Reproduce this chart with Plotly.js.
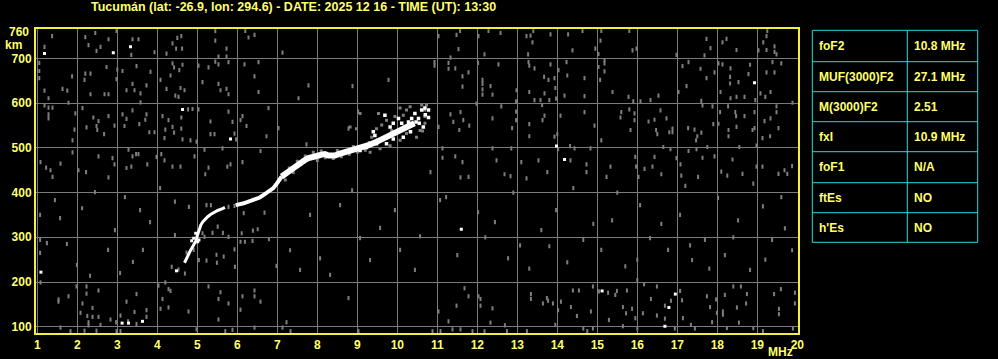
<!DOCTYPE html>
<html><head><meta charset="utf-8">
<script src="https://cdn.plot.ly/plotly-3.0.1.min.js"></script>
<style>html,body{margin:0;padding:0;background:#000;}#chart{width:998px;height:359px;}</style>
</head><body><div id="chart"></div>
<script>
// ---- Data (frequency in MHz, virtual height in km) ----
const xTicks = [1,2,3,4,5,6,7,8,9,10,11,12,13,14,15,16,17,18,19,20];
const yTicks = [100,200,300,400,500,600,700];

// main O-trace, lower thin part
const traceLowF = [4.68,4.71,4.74,4.78,4.81,4.84,4.89,4.94,4.98,4.99,5.03,5.06,5.09,5.14,5.19,5.26,5.33,5.41,5.51,5.63,5.69];
const traceLowH = [243,249,257,262,267,272,279,287,294,301,313,322,328,335,340,346,351,355,360,364,367];
// crossing branch near 5 MHz
const branchF = [4.86,4.91,4.96,5.01,5.04];
const branchH = [292,298,309,290,294];
// middle part
const traceMidF = [5.96,6.04,6.16,6.26,6.36,6.46,6.56,6.66,6.74,6.83,6.9,6.97,7.04,7.11];
const traceMidH = [372,373,376,379,382,385,389,395,400,403,410,418,427,436];
// upper thick part
const traceUpF = [7.11,7.19,7.28,7.36,7.44,7.53,7.61,7.69,7.78,7.86,7.94,8.03,8.11,8.19,8.28,8.36,8.44,8.53,8.61,8.69,8.78,8.86,8.94,9.03,9.11,9.19,9.28,9.47,9.63,9.8,9.97,10.13,10.3,10.43];
const traceUpH = [436,443,447,452,458,462,467,473,477,480,482,483,485,486,483,482,483,486,488,489,491,495,497,499,501,504,506,513,520,526,532,540,547,555];
// spread echoes at the top of the trace
const cloudWhiteF = [9.4,9.44,9.57,9.69,9.82,9.9,9.98,10.03,10.11,10.19,10.28,10.36,10.44,10.47,10.53,10.61,10.69,10.78,10.65,10.33,10.15,9.9,9.73,9.48,9.23,9.07,10.7,10.78,10.55];
const cloudWhiteH = [536,528,517,573,547,555,536,566,555,547,558,566,577,558,566,585,589,585,547,536,524,520,509,509,501,494,574,568,555];
const cloudGreyF = [9.53,9.61,9.73,9.86,9.94,10.07,10.15,10.23,10.32,10.4,10.57,10.61,10.73,10.23,10.07,9.82,9.57,9.32,9.48,9.07,8.98,8.82,9.36,10.48,10.69,10.69,10.63,10.68,8.0,8.2,8.4,8.6,8.8,9.0,9.2,8.1,8.5,8.9,9.3,9.5,7.5,7.7,7.3,7.9,7.2,7.4];
const cloudGreyH = [577,551,562,539,570,589,573,585,592,555,539,596,596,532,517,505,498,490,543,577,543,547,524,524,570,555,538,585,472,478,476,480,486,490,495,493,494,503,512,518,470,482,455,490,428,445];

// isolated strong dots
const whiteF = [1.18,2.9,3.33,4.63,5.83,18.93,13.98,14.18,15.12,16.79,16.69,16.95,3.12,3.28,3.63,11.6,1.09,4.48];
const whiteH = [711,713,726,586,520,646,504,474,180,143,101,173,108,108,112,318,222,225];

// background noise dots
const noiseF = [
1.37,1.18,2.2,2.28,2.45,2.58,2.48,2.78,2.98,3.38,3.53,3.35,3.93,4.23,4.38,4.5,4.6,4.62,4.47,5.45,5.45,5.53,5.73,5.73,6.2,6.28,6.43,7.13,
1.05,1.05,1.05,1.87,1.78,1.18,1.28,1.63,1.75,2.2,2.18,2.33,2.33,2.73,2.68,2.78,3.0,3.13,2.98,3.48,3.23,3.38,3.43,3.58,3.73,3.83,3.58,4.08,4.23,4.33,4.38,4.42,4.55,4.63,4.45,4.53,4.68,4.58,5.03,5.13,5.28,5.45,5.53,5.78,5.53,5.58,5.73,5.78,6.18,6.53,6.43,6.53,7.53,7.78,8.88,9.78,
1.18,1.28,1.38,1.28,1.28,1.95,1.93,1.88,2.13,2.23,2.4,2.5,2.48,2.67,2.53,2.78,2.93,3.13,3.23,3.38,3.18,3.55,3.7,3.73,3.8,3.93,4.13,4.2,4.18,4.28,4.38,4.42,4.77,4.88,4.6,4.6,4.63,4.83,5.03,4.98,5.33,5.33,5.43,5.78,5.88,5.93,5.97,6.08,6.13,6.23,6.78,7.03,6.73,7.73,8.78,9.02,
1.08,1.22,1.33,1.58,1.38,1.88,2.03,2.22,2.53,2.88,2.93,2.78,3.23,3.35,3.28,3.38,3.47,3.53,3.75,3.98,4.1,4.18,4.38,4.58,4.93,5.18,5.28,5.2,5.63,5.75,5.83,6.13,6.58,
11.03,11.48,11.57,11.53,12.03,12.18,12.28,12.58,13.23,13.27,13.33,13.38,13.4,13.83,14.27,14.38,14.63,14.95,15.03,15.08,15.1,15.8,15.88,15.98,16.98,17.68,17.73,17.83,18.13,18.23,18.48,19.03,19.15,19.23,19.23,19.25,19.43,19.43,19.48,
10.93,10.93,11.28,11.28,11.33,11.45,11.63,11.63,11.78,12.02,12.13,12.13,12.13,12.13,12.33,12.38,12.53,12.98,12.97,13.28,13.3,13.3,13.43,13.43,13.58,13.67,13.68,13.78,13.8,13.83,13.93,13.95,13.97,14.03,14.18,14.23,14.25,14.68,14.68,15.03,15.07,15.18,15.18,15.18,15.38,15.78,15.9,16.08,16.33,16.53,17.03,17.13,17.23,17.28,17.58,17.6,17.73,17.93,18.03,18.08,18.13,18.33,18.32,18.32,18.33,18.48,18.53,18.68,18.78,18.82,18.95,19.08,19.2,19.23,19.33,19.38,19.43,19.6,
11.03,11.33,11.4,11.58,11.65,11.55,11.8,11.98,12.38,12.6,12.87,12.97,12.97,13.3,13.3,13.62,13.63,13.68,13.93,14.0,14.08,14.68,14.93,15.1,15.6,15.58,15.8,15.83,15.93,15.93,16.28,16.43,16.47,16.5,16.58,16.73,16.8,16.88,16.88,17.27,17.43,17.47,17.5,17.6,17.63,17.88,17.9,18.03,18.07,18.27,18.28,18.28,18.45,18.47,18.48,18.68,18.88,18.93,18.93,19.13,19.32,19.33,19.18,19.48,19.48,19.53,19.88,
11.13,11.13,10.83,11.45,11.58,11.63,11.78,12.38,12.48,12.68,12.85,12.83,13.1,13.23,13.53,13.75,14.02,14.32,14.33,14.43,14.73,14.73,14.83,15.33,15.23,15.95,15.97,16.03,16.18,16.38,16.43,16.6,16.65,16.83,16.98,17.08,17.1,17.28,17.48,17.52,17.63,17.75,17.93,18.1,18.25,18.38,18.55,18.63,18.98,18.98,19.13,19.53,19.68,19.75,19.87,
1.08,1.53,1.53,1.78,1.98,2.23,2.23,2.13,2.08,2.38,2.25,2.38,2.28,2.53,2.53,2.58,2.28,2.83,2.97,3.23,3.48,3.43,3.73,3.73,3.08,3.27,3.48,1.58,1.83,2.18,2.48,2.98,3.08,4.03,4.13,4.28,4.33,4.08,4.28,4.78,4.2,4.98,5.28,5.58,5.53,5.78,5.53,5.7,5.88,6.08,6.13,6.43,6.43,6.58,6.43,7.23,7.33,7.13,8.78,9.03,11.03,11.28,11.38,11.48,11.68,11.78,12.03,12.08,12.08,12.38,12.33,12.18,11.88,10.88,11.08,11.58,
12.69,12.74,13.24,13.34,13.34,13.74,13.77,13.64,13.89,14.02,14.09,13.95,14.39,14.54,14.34,14.49,14.65,14.75,14.89,14.84,14.89,15.04,15.27,15.29,15.45,15.49,15.64,15.64,15.74,15.72,15.87,15.95,16.0,16.0,16.17,16.14,16.34,16.49,16.49,16.69,16.69,16.84,16.94,17.07,17.12,17.14,17.34,17.44,17.74,17.82,17.87,17.97,17.99,18.14,18.14,18.19,18.24,18.4,18.49,18.54,18.72,18.59,18.74,18.9,19.42,19.54,19.54,19.59,19.94,19.94,19.89,19.14,
1.07,1.07,1.07,1.24,1.57,1.74,2.44,2.32,1.99,2.94,3.19,3.39,3.57,3.82,4.07,2.77,1.44,2.12,3.07,3.64,
4.44,4.79,5.23,5.34,5.78,5.93,6.16,6.68,4.44,4.69,4.36,4.53,4.91,5.13,5.18,5.38,5.51,5.64,5.78,5.93,6.08,6.11,6.19,6.38,6.39,6.51,6.79,6.98,5.04,5.23,5.48,5.49,5.66,5.94,4.73,
7.32,7.57,8.07,8.32,8.57,9.07,9.57,10.07,10.57,11.07,8.87,9.94,7.82,9.32,10.44,
11.22,12.02,12.44,12.77,13.07,13.6,13.97,14.25,14.65,15.1,15.37,15.7,16.07,16.32,16.77,17.07,17.37,17.69,18.02,18.19,18.52,18.82,19.14,19.37,19.69,19.87,17.32,
11.5,12.2,12.9,13.3,13.8,14.4,14.9,15.5,16.0,16.6,17.2,17.8,18.4,18.9,19.6,19.2
];
const noiseH = [
750,726,748,730,757,726,717,743,762,743,743,708,714,711,734,746,750,722,722,762,740,704,722,704,762,747,753,713,
690,672,656,660,601,628,611,632,628,666,652,666,620,681,620,620,675,672,654,683,629,643,629,622,640,670,602,652,632,662,689,680,674,686,617,614,629,634,684,647,680,693,687,692,643,629,632,620,687,692,660,625,611,640,638,652,
595,590,590,575,566,577,541,517,589,546,568,540,549,531,560,571,550,575,565,584,549,553,563,575,535,535,571,541,522,562,547,534,586,587,568,543,519,517,586,514,559,531,531,581,558,532,519,562,571,549,589,544,526,508,543,581,
468,456,450,465,435,490,450,446,481,477,463,434,455,458,496,481,486,486,463,480,486,472,458,458,481,496,456,441,499,458,463,468,493,
750,753,762,721,750,709,762,757,750,709,751,736,762,754,754,718,762,722,710,740,762,762,718,722,708,707,744,723,736,744,719,718,736,750,719,762,727,715,709,
692,684,690,677,702,678,660,637,669,690,652,643,631,619,638,619,687,629,604,692,684,625,678,607,607,659,622,652,607,687,656,634,610,674,617,692,662,656,616,681,652,696,689,671,625,614,604,604,607,617,625,683,638,692,677,605,656,669,689,625,687,678,659,644,611,614,647,614,665,686,607,622,614,669,625,692,669,689,
547,575,558,580,562,540,550,599,566,593,544,581,562,553,526,596,562,572,525,531,572,580,550,517,580,568,586,540,577,562,559,563,540,531,584,566,535,543,535,544,541,517,526,534,595,593,553,554,580,593,540,526,580,571,547,571,540,544,580,522,526,566,560,593,580,544,601,
499,478,446,481,434,468,435,499,472,441,499,437,468,432,472,446,497,504,472,499,463,446,499,458,435,480,458,435,453,458,480,441,502,497,477,463,438,493,497,435,478,502,481,447,438,474,502,442,505,458,458,442,450,442,459,
199,161,156,168,190,190,174,152,131,142,124,122,110,181,122,104,103,116,110,156,173,133,137,122,125,112,106,98,90,91,91,90,90,192,162,184,180,140,143,134,199,94,190,177,162,152,116,90,93,138,168,181,168,156,98,110,90,98,164,90,134,112,94,147,186,168,168,147,162,141,109,90,90,90,90,94,
103,90,90,173,162,164,158,152,152,137,156,104,181,181,144,124,96,90,96,134,190,179,176,115,171,180,144,101,181,130,140,119,204,96,195,130,162,190,125,147,118,158,96,180,159,119,104,96,168,144,110,161,131,134,127,171,97,190,143,109,152,190,173,97,173,140,128,184,176,152,96,90,
350,294,265,287,343,285,401,214,238,316,390,245,361,334,410,272,383,365,220,272,
380,368,372,372,368,370,354,355,305,219,234,228,272,309,301,310,324,310,301,273,290,309,290,292,315,318,296,236,249,248,261,243,257,234,266,
271,227,253,216,372,298,321,272,302,383,405,361,350,249,227,
390,356,334,253,282,316,361,244,294,272,338,235,372,298,272,350,249,294,388,260,338,227,369,294,320,271,282,
260,300,400,230,280,410,330,400,250,330,415,230,300,420,390,250
];

// parameter table
const tableLabels = ["foF2","MUF(3000)F2","M(3000)F2","fxI","foF1","ftEs","h'Es"];
const tableValues = ["10.8 MHz","27.1 MHz","2.51","10.9 MHz","N/A","NO","NO"];

const titleText = "Tucumán (lat: -26.9, lon: 294.6) - DATE: 2025 12 16 - TIME (UT): 13:30";

// ---- Styles / layout geometry (pixels) ----
const YEL = '#ffff6e';
const FRAME = '#f0f040';
const GRID = '#7a7a7a';
const NOISE = '#7e7e7e';
const CYAN = '#22dede';
const FONT = 'Liberation Sans, Arial, sans-serif';
const W = 998, H = 359;
const px = v => v / W;
const py = v => 1 - v / H;
const TB = {left:812.3, mid:907.3, right:977.7, rows:[30.3,61.7,91.7,121.7,151.7,182.7,212.7,242.3]};

const traces = [
  {x: noiseF, y: noiseH, type:'scatter', mode:'markers', hoverinfo:'skip',
   marker:{symbol:'line-ns', size:3, line:{width:2, color:NOISE}}},
  {x: cloudGreyF, y: cloudGreyH, type:'scatter', mode:'markers', hoverinfo:'skip',
   marker:{symbol:'square', size:3, color:NOISE, line:{width:0}}},
  {x: traceLowF, y: traceLowH, type:'scatter', mode:'lines', hoverinfo:'skip',
   line:{color:'#ffffff', width:3}},
  {x: branchF, y: branchH, type:'scatter', mode:'markers', hoverinfo:'skip',
   marker:{symbol:'square', size:3, color:'#ffffff', line:{width:0}}},
  {x: traceMidF, y: traceMidH, type:'scatter', mode:'lines', hoverinfo:'skip',
   line:{color:'#ffffff', width:4}},
  {x: traceUpF, y: traceUpH, type:'scatter', mode:'lines', hoverinfo:'skip',
   line:{color:'#ffffff', width:6}},
  {x: cloudWhiteF, y: cloudWhiteH, type:'scatter', mode:'markers', hoverinfo:'skip',
   marker:{symbol:'square', size:3.5, color:'#ffffff', line:{width:0}}},
  {x: whiteF, y: whiteH, type:'scatter', mode:'markers', hoverinfo:'skip',
   marker:{symbol:'square', size:3, color:'#ffffff', line:{width:0}}}
];

const tfont = {family:FONT, size:12, color:YEL, weight:'bold'};
const shapes = [];
const annotations = [
  {text:titleText, xref:'paper', yref:'paper', x:px(293.7), y:py(7), xanchor:'center', yanchor:'middle',
   showarrow:false, font:{family:FONT, size:12.5, color:YEL, weight:'bold'}},
  {text:'760', xref:'paper', yref:'y', x:px(31.5), y:760, xanchor:'right', yanchor:'middle',
   showarrow:false, font:tfont},
  {text:'km', xref:'paper', yref:'paper', x:px(13), y:py(45), xanchor:'center', yanchor:'middle',
   showarrow:false, font:tfont},
  {text:'MHz', xref:'paper', yref:'paper', x:px(780.5), y:py(352), xanchor:'center', yanchor:'middle',
   showarrow:false, font:tfont}
];
// table frame
shapes.push({type:'rect', xref:'paper', yref:'paper', x0:px(TB.left), x1:px(TB.right),
  y0:py(TB.rows[0]), y1:py(TB.rows[TB.rows.length-1]), line:{color:CYAN, width:1}});
shapes.push({type:'line', xref:'paper', yref:'paper', x0:px(TB.mid), x1:px(TB.mid),
  y0:py(TB.rows[0]), y1:py(TB.rows[TB.rows.length-1]), line:{color:CYAN, width:1}});
for (let i = 1; i < TB.rows.length - 1; i++) {
  shapes.push({type:'line', xref:'paper', yref:'paper', x0:px(TB.left), x1:px(TB.right),
    y0:py(TB.rows[i]), y1:py(TB.rows[i]), line:{color:CYAN, width:1}});
}
tableLabels.forEach((lab, i) => {
  const yc = (TB.rows[i] + TB.rows[i+1]) / 2;
  annotations.push({text:lab, xref:'paper', yref:'paper', x:px(TB.left + 5), y:py(yc),
    xanchor:'left', yanchor:'middle', showarrow:false, font:tfont});
  annotations.push({text:tableValues[i], xref:'paper', yref:'paper', x:px(TB.mid + 5), y:py(yc),
    xanchor:'left', yanchor:'middle', showarrow:false, font:tfont});
});

const layout = {
  width: W, height: H,
  margin:{l:0, r:0, t:0, b:0},
  paper_bgcolor:'#000', plot_bgcolor:'#000',
  showlegend:false,
  font:{family:FONT, size:12, color:YEL, weight:'bold'},
  xaxis:{domain:[px(36), px(798)], range:[0.9675, 20.0175], tickvals:xTicks,
    ticktext:xTicks.map(String), showgrid:true, gridcolor:GRID, gridwidth:1,
    zeroline:false, showline:true, mirror:true, linecolor:FRAME, linewidth:2,
    ticks:'', tickfont:tfont},
  yaxis:{domain:[py(333), py(29.3)], range:[85.9, 765.3], tickvals:yTicks,
    ticktext:yTicks.map(String), showgrid:true, gridcolor:GRID, gridwidth:1,
    zeroline:false, showline:true, mirror:true, linecolor:FRAME, linewidth:2,
    ticks:'', tickfont:tfont},
  shapes: shapes,
  annotations: annotations
};

Plotly.newPlot('chart', traces, layout, {staticPlot:true, displayModeBar:false});
</script>
</body></html>
